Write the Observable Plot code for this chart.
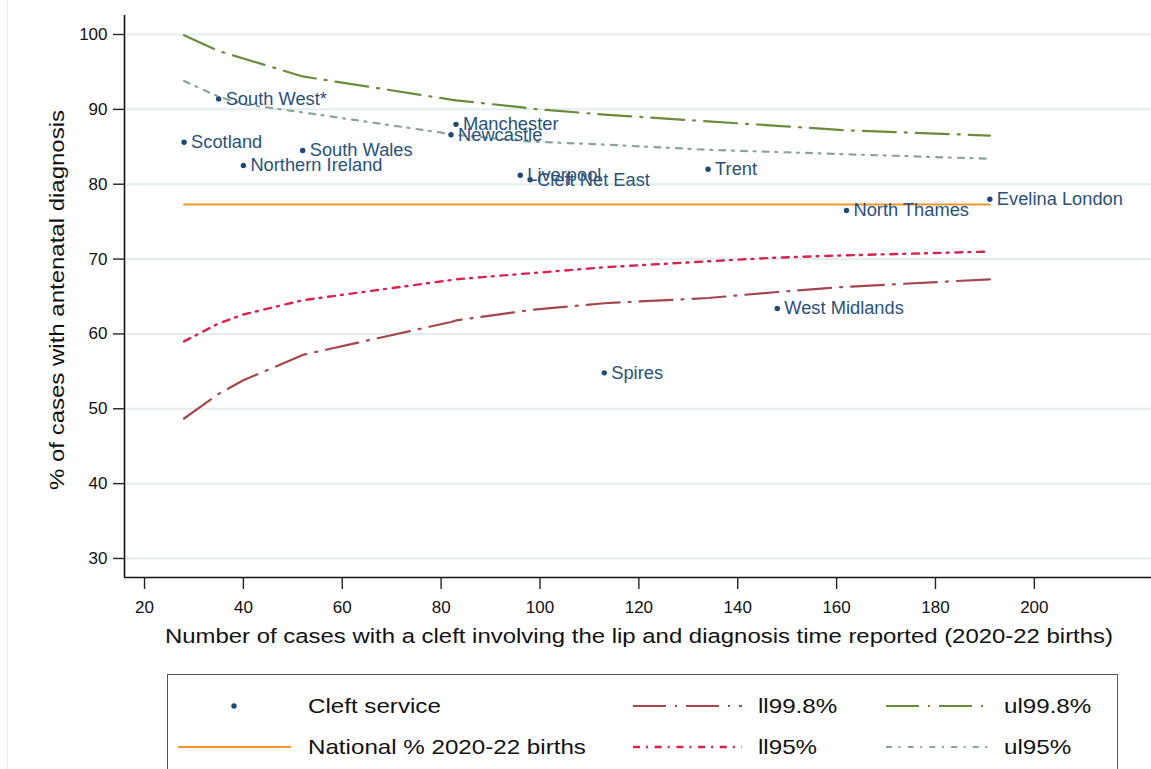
<!DOCTYPE html>
<html>
<head>
<meta charset="utf-8">
<script src="https://cdn.jsdelivr.net/npm/d3@7"></script>
<script src="https://cdn.jsdelivr.net/npm/@observablehq/plot@0.6"></script>
<style>
  html, body { margin: 0; padding: 0; background: #fff; }
  body { width: 1151px; height: 769px; position: relative; overflow: hidden; font-family: "Liberation Sans", Arial, sans-serif; }
  #chart { position: absolute; left: 0; top: 0; }
  #edge { position: absolute; left: 7px; top: 0; width: 0; height: 769px; border-left: 1px solid #ececec; }
  #legend { position: absolute; left: 167px; top: 674px; width: 951px; height: 110px; border: 1px solid #555; background: #fff; box-sizing: border-box; }
  .lg { position: absolute; font-size: 21px; color: #111; line-height: 1; white-space: nowrap; transform: scaleX(1.15); transform-origin: 0 50%; }
  .sw { position: absolute; }
</style>
</head>
<body>
<div id="edge"></div>
<div id="chart"></div>
<div id="legend"></div>
<script>
// ---- data ----
const services = ["Scotland","South West*","Northern Ireland","South Wales","Newcastle","Manchester","Liverpool","Cleft Net East","Spires","Trent","West Midlands","North Thames","Evelina London"];
const cases    = [28, 35, 40, 52, 82, 83, 96, 98, 113, 134, 148, 162, 191];
const pctAnte  = [85.6, 91.4, 82.5, 84.5, 86.6, 88.0, 81.2, 80.6, 54.8, 82.0, 63.4, 76.5, 78.0];

const limitN   = [28, 35, 40, 52, 82, 83, 96, 98, 113, 134, 148, 162, 191];
const ll998    = [48.7, 52.0, 53.8, 57.2, 61.6, 61.8, 63.0, 63.2, 64.1, 64.8, 65.6, 66.3, 67.3];
const ll95     = [59.0, 61.4, 62.6, 64.5, 67.2, 67.3, 68.0, 68.1, 68.9, 69.7, 70.2, 70.5, 71.0];
const ul95     = [93.8, 91.7, 90.7, 89.6, 86.7, 86.6, 85.8, 85.7, 85.3, 84.6, 84.3, 84.0, 83.4];
const ul998    = [99.9, 97.8, 96.8, 94.4, 91.3, 91.2, 90.3, 90.1, 89.3, 88.4, 87.8, 87.2, 86.5];
const nationalPct = 77.3;

const xTicks = [20, 40, 60, 80, 100, 120, 140, 160, 180, 200];
const yTicks = [30, 40, 50, 60, 70, 80, 90, 100];
const xDomain = [15.95, 223.7];
const yDomain = [27.46, 102.54];

const xTitle = "Number of cases with a cleft involving the lip and diagnosis time reported (2020-22 births)";
const yTitle = "% of cases with antenatal diagnosis";

// ---- styles ----
const col = {
  point: "#1f4a73",
  label: "#2a5179",
  national: "#f2962b",
  ll998: "#a3474d",
  ul998: "#678c3a",
  ll95: "#d6244f",
  ul95: "#8aa596"
};
const dash = {
  ll998: "33,9,2,9",
  ul998: "33,9,2,9",
  ll95: "7,6,2,6.7",
  ul95: "6,6.5,2,7.2"
};

const pts = services.map((s, i) => ({name: s, n: cases[i], pct: pctAnte[i]}));
const lim = limitN.map((n, i) => ({n, ll998: ll998[i], ll95: ll95[i], ul95: ul95[i], ul998: ul998[i]}));
const nat = [{n: limitN[0], v: nationalPct}, {n: limitN[limitN.length - 1], v: nationalPct}];

const chart = Plot.plot({
  width: 1151,
  height: 665,
  marginLeft: 124,
  marginRight: 0,
  marginTop: 15,
  marginBottom: 88,
  style: {fontFamily: "'Liberation Sans', Arial, sans-serif", background: "transparent", color: "#111"},
  x: {domain: xDomain, type: "linear"},
  y: {domain: yDomain, type: "linear"},
  marks: [
    Plot.gridY(yTicks, {stroke: "#e3edf0", strokeOpacity: 1, strokeWidth: 2}),
    Plot.ruleX([xDomain[0]], {stroke: "#111", strokeWidth: 1.6}),
    Plot.ruleY([yDomain[0]], {stroke: "#111", strokeWidth: 1.6}),
    Plot.axisY({ticks: yTicks, tickSize: 11, tickPadding: 6, fontSize: 17, label: null, stroke: "#222", strokeWidth: 1.4}),
    Plot.axisX({ticks: xTicks, tickSize: 12, tickPadding: 11, fontSize: 17, label: null, stroke: "#222", strokeWidth: 1.4}),
    Plot.line(lim, {x: "n", y: "ul998", stroke: col.ul998, strokeWidth: 2.2, strokeDasharray: dash.ul998, curve: "linear"}),
    Plot.line(lim, {x: "n", y: "ul95", stroke: col.ul95, strokeWidth: 2.2, strokeDasharray: dash.ul95, curve: "linear"}),
    Plot.line(lim, {x: "n", y: "ll95", stroke: col.ll95, strokeWidth: 2.4, strokeDasharray: dash.ll95, curve: "linear"}),
    Plot.line(lim, {x: "n", y: "ll998", stroke: col.ll998, strokeWidth: 2.2, strokeDasharray: dash.ll998, curve: "linear"}),
    Plot.line(nat, {x: "n", y: "v", stroke: col.national, strokeWidth: 2}),
    Plot.dot(pts, {x: "n", y: "pct", r: 2.7, fill: col.point, stroke: "none"}),
    Plot.text(pts, {x: "n", y: "pct", text: "name", textAnchor: "start", dx: 7, fontSize: 18.3, fill: col.label})
  ]
});

// axis titles as svg text
const svg = d3.select(chart);
svg.append("text")
  .attr("x", 639).attr("y", 643)
  .attr("text-anchor", "middle")
  .style("text-anchor", "middle")
  .attr("font-size", 20.5).attr("fill", "#111")
  .attr("textLength", 948).attr("lengthAdjust", "spacingAndGlyphs")
  .text(xTitle);
svg.append("text")
  .attr("transform", "translate(64,300) rotate(-90)")
  .attr("text-anchor", "middle")
  .style("text-anchor", "middle")
  .attr("font-size", 20).attr("fill", "#111")
  .attr("textLength", 380).attr("lengthAdjust", "spacingAndGlyphs")
  .text(yTitle);

document.getElementById("chart").appendChild(chart);

// ---- legend ----
const legend = document.getElementById("legend");
const L = 167, T = 674;
function swatchLine(x1, x2, y, color, width, dasharray) {
  const ns = "http://www.w3.org/2000/svg";
  const s = document.createElementNS(ns, "svg");
  s.setAttribute("class", "sw");
  s.setAttribute("width", x2 - x1);
  s.setAttribute("height", 8);
  s.style.left = (x1 - L) + "px";
  s.style.top = (y - T - 4) + "px";
  const ln = document.createElementNS(ns, "line");
  ln.setAttribute("x1", 0); ln.setAttribute("x2", x2 - x1);
  ln.setAttribute("y1", 4); ln.setAttribute("y2", 4);
  ln.setAttribute("stroke", color);
  ln.setAttribute("stroke-width", width);
  if (dasharray) ln.setAttribute("stroke-dasharray", dasharray);
  s.appendChild(ln);
  legend.appendChild(s);
}
function swatchDot(x, y, color) {
  const ns = "http://www.w3.org/2000/svg";
  const s = document.createElementNS(ns, "svg");
  s.setAttribute("class", "sw");
  s.setAttribute("width", 8); s.setAttribute("height", 8);
  s.style.left = (x - L - 4) + "px";
  s.style.top = (y - T - 4) + "px";
  const c = document.createElementNS(ns, "circle");
  c.setAttribute("cx", 4); c.setAttribute("cy", 4); c.setAttribute("r", 2.7);
  c.setAttribute("fill", color);
  s.appendChild(c);
  legend.appendChild(s);
}
function label(x, y, text) {
  const d = document.createElement("div");
  d.className = "lg";
  d.textContent = text;
  d.style.left = (x - L) + "px";
  d.style.top = (y - T - 11) + "px";
  legend.appendChild(d);
}
const row1 = 705, row2 = 746;
swatchDot(233, row1, col.point);
label(307, row1, "Cleft service");
swatchLine(632, 741, row1, col.ll998, 2.2, "33,9,2,9");
label(757, row1, "ll99.8%");
swatchLine(885, 991, row1, col.ul998, 2.2, "33,9,2,9");
label(1003, row1, "ul99.8%");
swatchLine(177, 290, row2, col.national, 2);
label(307, row2, "National % 2020-22 births");
swatchLine(632, 741, row2, col.ll95, 2.4, dash.ll95);
label(757, row2, "ll95%");
swatchLine(885, 991, row2, col.ul95, 2.2, dash.ul95);
label(1003, row2, "ul95%");
</script>
</body>
</html>
